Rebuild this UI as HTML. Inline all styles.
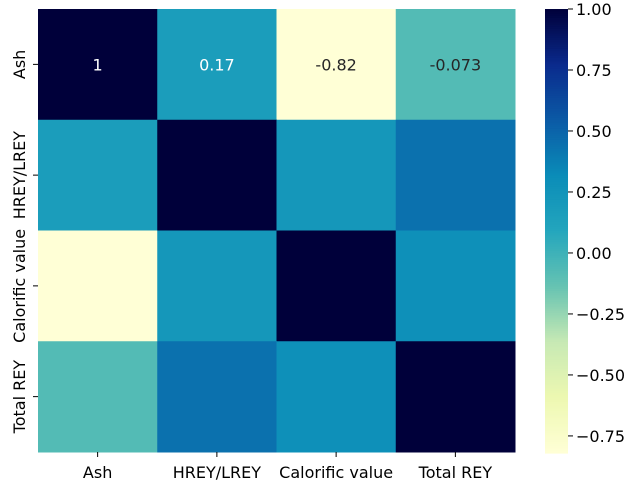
<!DOCTYPE html>
<html><head><meta charset="utf-8"><style>
html,body{margin:0;padding:0;background:#fff;}
svg{display:block;font-family:"DejaVu Sans","Liberation Sans",sans-serif;}
</style></head><body>
<svg id="chart" width="638" height="493"></svg>
<script>
const categories = ["Ash","HREY/LREY","Calorific value","Total REY"];
const matrix = [
  [1, 0.17, -0.82, -0.073],
  [0.17, 1, 0.22, 0.44],
  [-0.82, 0.22, 1, 0.28],
  [-0.073, 0.44, 0.28, 1]
];
const annotatedRow = [0];
const cbTicks = [1.00, 0.75, 0.50, 0.25, 0.00, -0.25, -0.50, -0.75];
const vmin = -0.82, vmax = 1;

const stops = ["#ffffd6","#edf8b1","#c7e9b4","#66c3b2","#24a6bd","#0a8cb8","#0b5aa6","#0a2a8c","#00003a"];
function hex(c){return [parseInt(c.substr(1,2),16),parseInt(c.substr(3,2),16),parseInt(c.substr(5,2),16)];}
function cmap(v){
  let t=(v-vmin)/(vmax-vmin); t=Math.max(0,Math.min(1,t));
  const p=t*(stops.length-1), i=Math.min(stops.length-2,Math.floor(p)), f=p-i;
  const a=hex(stops[i]), b=hex(stops[i+1]);
  return "rgb("+a.map((x,k)=>Math.round(x+(b[k]-x)*f)).join(",")+")";
}
const NS="http://www.w3.org/2000/svg";
const svg=document.getElementById("chart");
function mk(tag,attrs,parent){const e=document.createElementNS(NS,tag);for(const k in attrs)e.setAttribute(k,attrs[k]);(parent||svg).appendChild(e);return e;}

const X0=38, X1=515, Y0=9, Y1=452;
const n=categories.length;
const cw=(X1-X0)/n, ch=(Y1-Y0)/n;
const xPos=i=>X0+i*cw, yPos=j=>Y0+j*ch;
const FS=16;

matrix.forEach((row,r)=>row.forEach((v,c)=>{
  const rect=mk("rect",{x:xPos(c),y:yPos(r),width:cw+0.5,height:ch+0.5,fill:cmap(v)});
  
  
  if(annotatedRow.includes(r)){
    const t=mk("text",{x:xPos(c)+cw/2,y:yPos(r)+ch/2+6,"text-anchor":"middle","font-size":FS,fill:(v>0.05?"#fff":"#262626")});
    t.textContent=String(v);
    
    
  }
}));

categories.forEach((c,i)=>{
  const cx=xPos(i)+cw/2;
  mk("line",{x1:cx,x2:cx,y1:Y1,y2:Y1+5,stroke:"#000","stroke-width":1});
  const t=mk("text",{x:cx,y:Y1+26,"text-anchor":"middle","font-size":FS,fill:"#000"});
  t.textContent=c;
  
  
  const cy=yPos(i)+ch/2;
  mk("line",{x1:X0-5,x2:X0,y1:cy,y2:cy,stroke:"#000","stroke-width":1});
  const ty=mk("text",{x:25,y:cy,"text-anchor":"middle","font-size":FS,fill:"#000",transform:"rotate(-90 25 "+cy+")"});
  ty.textContent=c;
  
  
});

const CX0=545, CX1=568, CY0=9, CY1=453;
const cy=v=>CY0+(vmax-v)/(vmax-vmin)*(CY1-CY0);
const cb=mk("g",{});


const N=200;
for(let k=0;k<N;k++){
  const v1=vmax-(k/N)*(vmax-vmin), v2=vmax-((k+1)/N)*(vmax-vmin);
  mk("rect",{x:CX0,y:cy(v1),width:CX1-CX0,height:cy(v2)-cy(v1)+0.6,fill:cmap((v1+v2)/2)},cb);
}
cbTicks.forEach(v=>{
  const y=cy(v);
  mk("line",{x1:CX1,x2:CX1+5,y1:y,y2:y,stroke:"#000","stroke-width":1});
  const t=mk("text",{x:CX1+8,y:y+6,"font-size":FS,fill:"#000"});
  t.textContent=(v<0?"\u2212"+Math.abs(v).toFixed(2):v.toFixed(2));
  
  
});
</script>
</body></html>
